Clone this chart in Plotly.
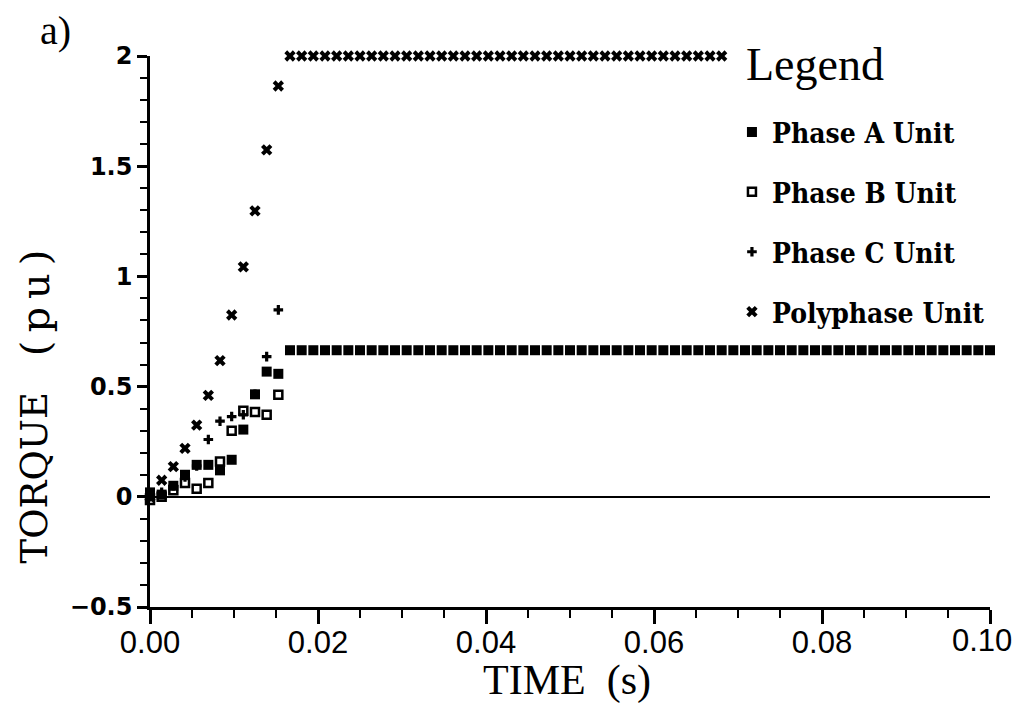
import plotly.graph_objects as go

# sample period of the recorded torque (s)
dt = 1 / 720

# torque values (pu), one per sample
phase_a = [0.02, 0.01, 0.05, 0.10, 0.145, 0.145, 0.12, 0.168, 0.305, 0.465,
           0.568, 0.558] + [0.665] * 61
phase_b = [-0.015, 0.0, 0.03, 0.063, 0.036, 0.063, 0.16, 0.30, 0.39, 0.385,
           0.372, 0.463]
phase_c = [0.0, 0.02, 0.05, 0.09, 0.14, 0.26, 0.343, 0.364, 0.372, 0.465,
           0.636, 0.848]
polyphase = [0.0, 0.075, 0.137, 0.22, 0.325, 0.46, 0.618, 0.825, 1.043, 1.297,
             1.574, 1.864] + [2.0] * 38

names = ['Phase A Unit', 'Phase B Unit', 'Phase C Unit', 'Polyphase Unit']
x_ticks = [0.0, 0.02, 0.04, 0.06, 0.08, 0.10]
# last label is drawn as an annotation so it stays inside the page
x_labels = ['0.00', '0.02', '0.04', '0.06', '0.08', '']

fig = go.Figure()

fig.add_trace(go.Scatter(y=phase_a, x0=0, dx=dt, mode='markers', name=names[0],
                         legendgroup='a', cliponaxis=False,
                         marker=dict(symbol='square', size=10, color='black')))
fig.add_trace(go.Scatter(y=phase_b, x0=0, dx=dt, mode='markers', name=names[1],
                         legendgroup='b', cliponaxis=False,
                         marker=dict(symbol='square-open', size=8, color='black',
                                     line=dict(width=2.5, color='black'))))
fig.add_trace(go.Scatter(y=phase_c, x0=0, dx=dt, mode='markers', name=names[2],
                         legendgroup='c', cliponaxis=False,
                         marker=dict(symbol='cross', size=8, color='black')))
fig.add_trace(go.Scatter(y=polyphase, x0=0, dx=dt, mode='markers', name=names[3],
                         legendgroup='d', cliponaxis=False,
                         marker=dict(symbol='x', size=10, color='black')))

fig.update_xaxes(range=[0, 0.1], tickmode='array', tickvals=x_ticks,
                 ticktext=x_labels,
                 showgrid=False, zeroline=False,
                 showline=True, linecolor='black', linewidth=3,
                 ticks='outside', ticklen=14, tickwidth=2.5, tickcolor='black',
                 ticklabelstandoff=-8,
                 tickfont=dict(family='Liberation Sans', size=31, color='black'),
                 minor=dict(dtick=0.005, ticks='outside', ticklen=8,
                            tickwidth=2, tickcolor='black'))
fig.update_yaxes(range=[-0.5, 2], dtick=0.5,
                 showgrid=False, zeroline=True, zerolinecolor='black',
                 zerolinewidth=1.5,
                 showline=True, linecolor='black', linewidth=2.5,
                 ticks='outside', ticklen=10, tickwidth=2.5, tickcolor='black',
                 tickfont=dict(family='DejaVu Sans', size=24, color='black',
                               weight='bold'),
                 minor=dict(dtick=0.1, ticks='outside', ticklen=7,
                            tickwidth=2, tickcolor='black'))

serif = 'Liberation Serif'
fig.update_layout(
    # page body has an 8px margin all round, so the figure is 16px smaller
    width=1007, height=699,
    margin=dict(l=142, r=25, t=48, b=100),
    plot_bgcolor='white', paper_bgcolor='white',
    showlegend=True,
    legend=dict(x=0.6928, y=0.907, xanchor='left', yanchor='top',
                bgcolor='rgba(0,0,0,0)', tracegroupgap=20.5,
                font=dict(family='DejaVu Serif Condensed', size=28,
                          color='black', weight='bold')),
    annotations=[
        dict(text='a)', x=-0.113, y=1.047, xref='paper', yref='paper',
             xanchor='center', yanchor='middle', showarrow=False,
             font=dict(family=serif, size=40, color='black')),
        dict(text='Legend', x=0.7917, y=0.9837, xref='paper', yref='paper',
             xanchor='center', yanchor='middle', showarrow=False,
             font=dict(family=serif, size=46, color='black')),
        dict(text='0.10', x=1.0286, y=-0.0617, xref='paper', yref='paper',
             xanchor='right', yanchor='middle', showarrow=False,
             font=dict(family='Liberation Sans', size=31, color='black')),
        dict(text='TIME&nbsp;&nbsp;(s)', x=0.496, y=-0.1325,
             xref='paper', yref='paper', xanchor='center', yanchor='middle',
             showarrow=False, font=dict(family=serif, size=42, color='black')),
        dict(text='TORQUE', x=-0.137, y=0.235, xref='paper', yref='paper',
             xanchor='center', yanchor='middle', showarrow=False, textangle=-90,
             font=dict(family='DejaVu Serif', size=37, color='black')),
        dict(text='(&#8201;p&#8201;u&#8201;)', x=-0.137, y=0.553,
             xref='paper', yref='paper', xanchor='center', yanchor='middle',
             showarrow=False, textangle=-90,
             font=dict(family='DejaVu Serif', size=40, color='black')),
    ],
)

fig.write_html("out.html")
